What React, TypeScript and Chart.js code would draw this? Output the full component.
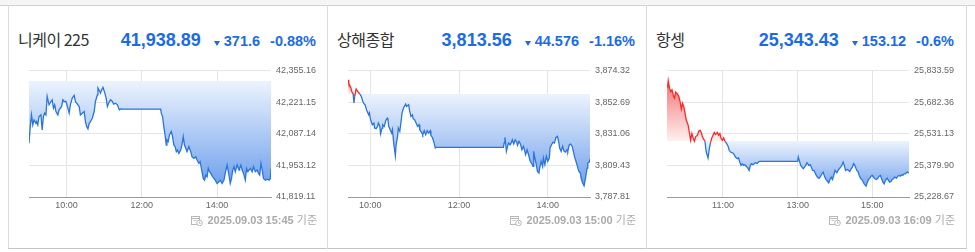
import React, { useEffect, useRef } from "react";
import { Chart, registerables } from "chart.js";

Chart.register(...registerables);
Chart.defaults.font.family = '"Liberation Sans", Arial, sans-serif';

// ---------- Nikkei 225 (minutes after 09:00) ----------
const nikkeiTimes = [
  0, 2, 4, 6, 8, 11, 12, 14, 16, 19,
  21, 23, 25, 27, 29, 32, 35, 37, 39, 41,
  43, 46, 48, 52, 54, 56, 59, 62, 64, 66,
  69, 72, 74, 76, 80, 82, 85, 88, 90, 92,
  94, 96, 98, 101, 104, 106, 109, 110, 113, 114,
  116, 118, 121, 123, 125, 127, 130, 133, 135, 138,
  141, 144, 146, 150, 210, 211, 213, 215, 217, 219,
  220, 222, 224, 227, 229, 231, 233, 235, 237, 239,
  242, 244, 246, 248, 250, 252, 255, 258, 260, 263,
  266, 268, 271, 273, 276, 278, 280, 282, 284, 286,
  288, 290, 293, 295, 297, 300, 303, 305, 308, 311,
  313, 316, 319, 321, 323, 325, 327, 329, 332, 335,
  336, 338, 340, 343, 345, 347, 349, 351, 353, 356,
  358, 361, 364, 366, 368, 370, 372, 374, 377, 380,
  383, 385, 386,
];
const nikkeiValues = [
  42046.4, 42117.2, 42166.8, 42124.3, 42145.6, 42131.4, 42138.5, 42124.3, 42159.8, 42166.8,
  42103.1, 42159.8, 42173.9, 42166.8, 42244.8, 42209.4, 42223.5, 42230.6, 42195.2, 42209.4,
  42181.0, 42166.8, 42188.1, 42202.3, 42230.6, 42223.5, 42223.5, 42195.2, 42173.9, 42209.4,
  42237.7, 42249.0, 42223.5, 42216.4, 42202.3, 42166.8, 42173.9, 42181.0, 42138.5, 42117.2,
  42107.3, 42131.4, 42138.5, 42152.7, 42181.0, 42223.5, 42251.9, 42280.2, 42266.0, 42258.9,
  42273.1, 42283.0, 42258.9, 42237.7, 42202.3, 42216.4, 42230.6, 42223.5, 42212.2, 42216.4,
  42209.4, 42188.1, 42192.3, 42190.9, 42190.9, 42173.9, 42159.8, 42117.2, 42081.8, 42039.3,
  42060.6, 42053.5, 42081.8, 42096.0, 42074.7, 42039.3, 42032.2, 42011.0, 42018.0, 42003.9,
  42018.0, 42039.3, 42074.7, 42039.3, 42025.1, 42011.0, 42032.2, 42011.0, 41989.7, 41982.6,
  41989.7, 41975.5, 41961.4, 41968.5, 41925.9, 41897.6, 41890.5, 41911.8, 41904.7, 41940.1,
  41926.0, 41918.9, 41904.7, 41897.6, 41890.5, 41876.3, 41883.4, 41890.5, 41876.3, 41890.5,
  41918.9, 41954.3, 41911.8, 41876.3, 41897.6, 41933.0, 41947.2, 41926.0, 41954.3, 41933.0,
  41940.1, 41954.3, 41933.0, 41911.8, 41890.5, 41940.1, 41926.0, 41933.0, 41940.1, 41926.0,
  41947.2, 41926.0, 41933.0, 41918.9, 41911.8, 41961.4, 41933.0, 41897.6, 41890.5, 41894.8,
  41890.5, 41897.6, 41938.9,
];
const nikkeiYTicks = [41819.11, 41953.12, 42087.14, 42221.15, 42355.16];
const nikkeiXTicks = ["10:00", "12:00", "14:00"];

// ---------- Shanghai Composite (minutes after 09:30) ----------
const shanghaiTimes = [
  0, 1, 2, 4, 5, 7, 8, 9, 11, 13,
  14, 16, 18, 20, 22, 23, 25, 26, 28, 29,
  30, 32, 33, 35, 36, 38, 40, 41, 43, 44,
  46, 47, 49, 51, 53, 54, 55, 57, 59, 60,
  62, 64, 65, 67, 68, 70, 72, 73, 75, 78,
  79, 82, 83, 85, 87, 88, 90, 92, 94, 96,
  97, 100, 101, 103, 105, 107, 109, 111, 112, 114,
  116, 118, 119, 120, 210, 211, 212, 213, 214, 216,
  217, 219, 221, 222, 224, 226, 228, 229, 231, 233,
  235, 237, 239, 240, 242, 244, 246, 248, 250, 251,
  252, 254, 256, 258, 259, 261, 263, 264, 266, 268,
  270, 272, 273, 275, 277, 279, 281, 283, 285, 286,
  288, 290, 292, 294, 296, 297, 299, 301, 303, 305,
  306, 308, 310, 312, 314, 315, 317, 319, 321, 323,
  324, 326, 327,
];
const shanghaiValues = [
  3867.9, 3865.7, 3864.5, 3862.3, 3860.0, 3858.1, 3852.0, 3856.6, 3861.6, 3860.0,
  3859.5, 3858.1, 3856.6, 3853.1, 3851.3, 3850.9, 3847.4, 3846.3, 3844.0, 3845.2,
  3841.7, 3838.3, 3837.2, 3838.3, 3834.9, 3834.5, 3836.1, 3838.3, 3836.1, 3831.0,
  3834.9, 3837.2, 3836.1, 3839.9, 3841.7, 3840.6, 3836.1, 3833.8, 3831.5, 3833.8,
  3823.5, 3816.0, 3823.5, 3829.2, 3834.9, 3832.6, 3840.6, 3845.2, 3848.6, 3851.3,
  3849.7, 3850.9, 3847.4, 3842.9, 3844.0, 3841.3, 3840.6, 3838.3, 3836.1, 3837.2,
  3833.8, 3831.5, 3830.4, 3833.1, 3830.4, 3833.1, 3831.5, 3833.1, 3829.9, 3828.5,
  3825.3, 3821.3, 3821.7, 3821.7, 3821.7, 3824.7, 3828.5, 3824.7, 3819.0, 3823.1,
  3824.7, 3823.5, 3825.3, 3826.9, 3824.0, 3826.9, 3825.3, 3823.1, 3825.8, 3824.0,
  3820.1, 3822.4, 3819.0, 3816.7, 3820.1, 3816.7, 3812.6, 3811.0, 3808.7, 3819.0,
  3815.6, 3811.0, 3805.3, 3804.2, 3807.6, 3812.2, 3808.7, 3814.4, 3809.9, 3815.6,
  3812.2, 3814.4, 3821.3, 3823.5, 3825.3, 3824.7, 3828.5, 3829.2, 3824.7, 3821.3,
  3819.0, 3822.4, 3819.0, 3818.5, 3820.1, 3819.0, 3823.5, 3824.0, 3822.4, 3817.9,
  3815.6, 3812.2, 3808.7, 3805.3, 3804.2, 3800.8, 3797.4, 3795.5, 3800.8, 3807.6,
  3811.0, 3811.7, 3813.6,
];
const shanghaiYTicks = [3787.81, 3809.43, 3831.06, 3852.69, 3874.32];
const shanghaiXTicks = ["10:00", "12:00", "14:00"];

// ---------- Hang Seng (minutes after 09:30) ----------
const hangsengTimes = [
  0, 1, 2, 4, 6, 8, 10, 12, 14, 17,
  19, 21, 23, 25, 27, 29, 31, 34, 36, 38,
  40, 42, 44, 46, 49, 51, 53, 55, 57, 59,
  61, 63, 66, 68, 70, 72, 74, 76, 78, 81,
  83, 85, 87, 89, 91, 93, 95, 98, 100, 102,
  104, 106, 108, 110, 113, 115, 117, 119, 121, 123,
  125, 127, 130, 132, 134, 136, 138, 140, 142, 145,
  147, 149, 150, 210, 211, 213, 215, 217, 219, 221,
  223, 225, 228, 230, 232, 234, 236, 238, 240, 243,
  245, 247, 249, 251, 253, 255, 257, 260, 262, 264,
  266, 268, 270, 273, 275, 277, 279, 281, 283, 285,
  287, 290, 292, 294, 296, 298, 300, 302, 305, 307,
  309, 311, 313, 315, 317, 320, 322, 324, 326, 328,
  330, 332, 334, 337, 339, 341, 343, 345, 347, 349,
  351, 354, 356, 358, 360, 362, 364, 366, 369, 371,
  373, 375, 377, 379, 381, 383, 386, 388, 389,
];
const hangsengValues = [
  25761.4, 25756.6, 25783.9, 25748.6, 25732.6, 25740.6, 25716.5, 25700.5, 25729.4, 25719.7,
  25708.5, 25684.4, 25649.2, 25676.4, 25660.4, 25628.3, 25596.2, 25572.2, 25536.9, 25500.0,
  25532.1, 25511.2, 25495.2, 25516.1, 25524.0, 25543.3, 25548.1, 25536.9, 25516.1, 25504.8,
  25495.2, 25443.9, 25415.0, 25459.9, 25488.8, 25511.2, 25524.0, 25536.9, 25527.2, 25536.9,
  25524.0, 25532.1, 25508.0, 25500.0, 25511.2, 25495.2, 25488.8, 25472.8, 25451.9, 25443.9,
  25440.7, 25439.1, 25431.0, 25419.8, 25411.8, 25415.0, 25395.7, 25379.7, 25387.7, 25379.7,
  25382.9, 25376.5, 25366.9, 25355.7, 25379.7, 25387.7, 25382.9, 25387.7, 25392.5, 25389.3,
  25395.7, 25398.9, 25398.9, 25398.9, 25419.8, 25398.9, 25379.7, 25371.7, 25363.6, 25371.7,
  25379.7, 25392.5, 25379.7, 25382.9, 25371.7, 25355.7, 25355.7, 25344.4, 25331.6, 25318.8,
  25318.8, 25328.4, 25339.6, 25347.6, 25328.4, 25315.6, 25307.6, 25296.3, 25312.4, 25323.6,
  25312.4, 25331.6, 25355.7, 25344.4, 25355.7, 25363.6, 25371.7, 25379.7, 25395.7, 25379.7,
  25355.7, 25360.5, 25355.7, 25350.8, 25363.6, 25371.7, 25387.7, 25379.7, 25355.7, 25350.8,
  25331.6, 25318.8, 25312.4, 25302.7, 25291.5, 25280.3, 25299.5, 25312.4, 25318.8, 25328.4,
  25331.6, 25323.6, 25315.6, 25312.4, 25318.8, 25328.4, 25331.6, 25315.6, 25299.5, 25291.5,
  25307.6, 25318.8, 25307.6, 25299.5, 25302.7, 25312.4, 25315.6, 25323.6, 25318.8, 25328.4,
  25331.6, 25328.4, 25334.8, 25331.6, 25339.6, 25339.6, 25347.6, 25344.4, 25343.4,
];
const hangsengYTicks = [25228.67, 25379.9, 25531.13, 25682.36, 25833.59];
const hangsengXTicks = ["11:00", "13:00", "15:00"];

type Spec = {
  name: string;
  price: number;
  change: number;
  pct: string;
  open: string;
  stamp: string;
  times: number[];
  values: number[];
  yTicks: number[];
  xTicks: string[];
};

const specs: Spec[] = [
  { name: "니케이 225", price: 41938.89, change: -371.6, pct: "-0.88%", open: "09:00", stamp: "2025.09.03 15:45", times: nikkeiTimes, values: nikkeiValues, yTicks: nikkeiYTicks, xTicks: nikkeiXTicks },
  { name: "상해종합", price: 3813.56, change: -44.576, pct: "-1.16%", open: "09:30", stamp: "2025.09.03 15:00", times: shanghaiTimes, values: shanghaiValues, yTicks: shanghaiYTicks, xTicks: shanghaiXTicks },
  { name: "항셍", price: 25343.43, change: -153.12, pct: "-0.6%", open: "09:30", stamp: "2025.09.03 16:09", times: hangsengTimes, values: hangsengValues, yTicks: hangsengYTicks, xTicks: hangsengXTicks },
];

const BLUE_TEXT = "#1a6ce6";
const LINE_BLUE = "#2a74e0";
const LINE_RED = "#ff2626";
const PANEL_LEFTS = [8, 327, 646];
const PANEL_W = 319;

const toMin = (s: string) => {
  const [h, m] = s.split(":").map(Number);
  return h * 60 + m;
};
const fmt2 = (v: number) =>
  v.toLocaleString("en-US", { minimumFractionDigits: 2, maximumFractionDigits: 2 });

function PanelChart({ spec }: { spec: Spec }) {
  const ref = useRef<HTMLCanvasElement>(null);
  useEffect(() => {
    const canvas = ref.current!;
    const base = spec.price - spec.change;
    const open = toMin(spec.open);
    const xTickVals = spec.xTicks.map((s) => toMin(s) - open);
    const pts = spec.times.map((t, i) => ({ x: t, y: spec.values[i] }));
    const chart = new Chart(canvas, {
      type: "line",
      data: {
        datasets: [
          {
            data: pts,
            borderColor: LINE_BLUE,
            borderWidth: 1.3,
            pointRadius: 0,
            tension: 0,
            fill: false,
            segment: {
              borderColor: (c: any) =>
                (c.p0.parsed.y + c.p1.parsed.y) / 2 > base ? LINE_RED : LINE_BLUE,
            },
          } as any,
        ],
      },
      options: {
        animation: false,
        responsive: false,
        maintainAspectRatio: false,
        events: [],
        layout: { padding: { left: 10, top: 10, right: 0, bottom: 0 } },
        plugins: { legend: { display: false }, tooltip: { enabled: false } },
        scales: {
          x: {
            type: "linear",
            min: 0,
            max: spec.times[spec.times.length - 1],
            afterBuildTicks: (axis: any) => {
              axis.ticks = xTickVals.map((v) => ({ value: v }));
            },
            afterFit: (axis: any) => {
              axis.height = 23;
            },
            ticks: {
              autoSkip: false,
              maxRotation: 0,
              padding: 3,
              color: "#666",
              font: { size: 9 },
              callback: (v: any) => {
                const i = xTickVals.indexOf(Number(v));
                return i >= 0 ? spec.xTicks[i] : "";
              },
            },
            grid: { color: "#e4e4e4", drawTicks: false },
            border: { color: "#9a9a9a" },
          },
          y: {
            type: "linear",
            position: "right",
            min: spec.yTicks[0],
            max: spec.yTicks[spec.yTicks.length - 1],
            afterBuildTicks: (axis: any) => {
              axis.ticks = spec.yTicks.map((v) => ({ value: v }));
            },
            afterFit: (axis: any) => {
              axis.width = 56;
            },
            ticks: {
              autoSkip: false,
              padding: 5,
              color: "#666",
              font: { size: 9 },
              callback: (v: any) => fmt2(Number(v)),
            },
            grid: { color: "#e6e6e6", drawTicks: false },
            border: { display: false },
          },
        },
      } as any,
    });
    const area = chart.chartArea;
    const yb = chart.scales.y.getPixelForValue(base);
    const g = canvas.getContext("2d")!;
    const blue = g.createLinearGradient(0, yb, 0, area.bottom);
    blue.addColorStop(0, "rgba(236,243,253,1)");
    blue.addColorStop(1, "rgba(98,152,234,1)");
    const red = g.createLinearGradient(0, area.top, 0, yb);
    red.addColorStop(0, "rgba(240,95,95,1)");
    red.addColorStop(1, "rgba(255,240,240,1)");
    (chart.data.datasets[0] as any).fill = { value: base, above: red, below: blue };
    chart.update();
    return () => chart.destroy();
  }, [spec]);
  return (
    <canvas
      ref={ref}
      width={308}
      height={160}
      style={{ position: "absolute", left: 11, top: 60, width: 308, height: 160 }}
    />
  );
}

function CalIcon() {
  return (
    <svg width="12" height="11" viewBox="0 0 12 11" style={{ display: "block" }}>
      <rect x="0.5" y="1.5" width="8" height="8" fill="none" stroke="#b8b8b8" />
      <line x1="0.5" y1="3.5" x2="8.5" y2="3.5" stroke="#b8b8b8" />
      <line x1="2.5" y1="5.5" x2="5.5" y2="5.5" stroke="#c8c8c8" />
      <circle cx="8.5" cy="8" r="2.8" fill="#fff" stroke="#b8b8b8" />
      <line x1="8.5" y1="6.6" x2="8.5" y2="8.2" stroke="#b8b8b8" />
      <line x1="8.5" y1="8.2" x2="9.7" y2="8.2" stroke="#b8b8b8" />
    </svg>
  );
}

function Panel({ spec, left }: { spec: Spec; left: number }) {
  const priceText = fmt2(spec.price);
  const changeText = String(Math.abs(spec.change));
  return (
    <div style={{ position: "absolute", left, top: 0, width: PANEL_W, height: 252 }}>
      <div
        style={{
          position: "absolute",
          left: 10,
          top: 31,
          fontFamily: '"Noto Sans CJK KR", "Noto Sans", sans-serif',
          fontSize: 16,
          lineHeight: "16px",
          color: "#333",
          letterSpacing: -0.5,
          whiteSpace: "pre",
        }}
      >
        {spec.name}
      </div>
      <div
        style={{
          position: "absolute",
          right: 11,
          top: 31,
          display: "flex",
          alignItems: "baseline",
          fontFamily: '"Liberation Sans", Arial, sans-serif',
          fontWeight: "bold",
          color: BLUE_TEXT,
          whiteSpace: "nowrap",
          lineHeight: "18px",
        }}
      >
        <span style={{ fontSize: 18 }}>{priceText}</span>
        <span
          style={{
            display: "inline-block",
            width: 0,
            height: 0,
            borderLeft: "3px solid transparent",
            borderRight: "3px solid transparent",
            borderTop: "5px solid " + BLUE_TEXT,
            marginLeft: 13,
            marginRight: 4,
            marginBottom: 4,
          }}
        />
        <span style={{ fontSize: 14.5 }}>{changeText}</span>
        <span style={{ fontSize: 14.5, marginLeft: 10 }}>{spec.pct}</span>
      </div>
      <PanelChart spec={spec} />
      <div
        style={{
          position: "absolute",
          right: 10,
          top: 215,
          display: "flex",
          alignItems: "center",
          gap: 4,
          fontFamily: '"Liberation Sans", Arial, "Noto Sans CJK KR", sans-serif',
          fontSize: 11,
          lineHeight: "11px",
          color: "#aaa",
          whiteSpace: "nowrap",
        }}
      >
        <CalIcon />
        <span>
          <span style={{ fontWeight: "bold" }}>{spec.stamp}</span> 기준
        </span>
      </div>
    </div>
  );
}

export default function App() {
  return (
    <div
      style={{
        position: "fixed",
        left: 0,
        top: 0,
        width: 975,
        height: 252,
        background: "#fff",
        overflow: "hidden",
      }}
    >
      <div
        style={{
          position: "absolute",
          left: 0,
          top: 0,
          width: 975,
          height: 5,
          background: "#f5f5f5",
          borderBottom: "1px solid #d2d2d2",
        }}
      />
      <div
        style={{
          position: "absolute",
          left: 8,
          top: 5,
          width: 957,
          height: 243,
          borderLeft: "1px solid #dcdcdc",
          borderRight: "1px solid #dcdcdc",
          borderBottom: "1px solid #c4c4c4",
        }}
      />
      {[327, 646].map((x) => (
        <div
          key={x}
          style={{ position: "absolute", left: x, top: 5, width: 1, height: 244, background: "#dcdcdc" }}
        />
      ))}
      {specs.map((s, i) => (
        <Panel key={s.name} spec={s} left={PANEL_LEFTS[i]} />
      ))}
    </div>
  );
}
